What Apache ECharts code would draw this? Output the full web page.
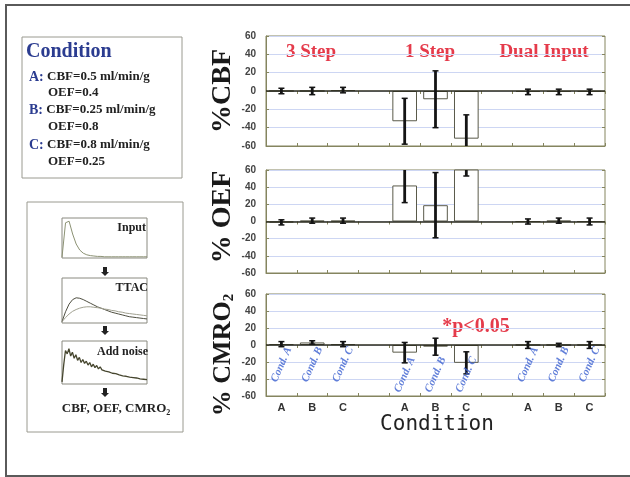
<!DOCTYPE html>
<html>
<head>
<meta charset="utf-8">
<title>%CBF / %OEF / %CMRO2 by condition</title>
<script src="https://cdn.jsdelivr.net/npm/echarts@6/dist/echarts.min.js"></script>
<style>
  html, body { margin: 0; padding: 0; background: #fff; }
  #chart { width: 630px; height: 477px; }
</style>
</head>
<body>
<div id="chart"></div>
<script>
// categories: 3 Step A-C, gap, 1 Step A-C, gap, Dual Input A-C
const xLabels = ['A', 'B', 'C', '', 'A', 'B', 'C', '', 'A', 'B', 'C']
const yMin = -60
const yMax = 60
const yStep = 20

// % error of estimates (mean, sd)
const cbfMean = [0, 0, 1, null, -33, -9, -52, null, -1, -1, -1]
const cbfErr = [3, 4, 3, null, 25, 31, 26, null, 3, 3, 3]
const oefMean = [-1, 1, 1, null, 42, 19, 75, null, 0, 1, 0]
const oefErr = [3, 3, 3, null, 20, 38, 22, null, 3, 3, 4]
const cmroMean = [1, 3, 1, null, -9, -2, -21, null, 0, 0, 0]
const cmroErr = [3, 2, 3, null, 12, 10, 13, null, 4, 2, 4]

// rotated "Cond." labels inside the CMRO2 panel
const condNames = ['Cond. A', 'Cond. B', 'Cond. C', '', 'Cond. A', 'Cond. B', 'Cond. C', '', 'Cond. A', 'Cond. B', 'Cond. C']
const condY = [-23, -23, -23, null, -35, -35, -35, null, -23, -23, -23]

// little curves of the simulation flow
const inputCurve = [2, 88, 92, 60, 35, 20, 12, 8, 6, 5, 4, 4, 3, 3, 3, 3, 3, 3, 3, 3, 3, 3, 3, 3, 3]
const ttacCurve = [3, 25, 42, 52, 56, 55, 52, 48, 44, 40, 36, 33, 30, 27, 24, 22, 20, 18, 16, 14, 13, 12, 11, 10, 9]
const ttacCurve2 = [3, 12, 20, 26, 30, 33, 35, 36, 36, 35, 34, 33, 31, 30, 28, 27, 25, 24, 22, 21, 20, 19, 18, 17, 16]
const noiseCurve = [5, 45, 78, 70, 82, 65, 74, 60, 68, 55, 62, 50, 57, 48, 53, 44, 50, 40, 46, 38, 43, 35, 40, 33, 37, 30,
  34, 28, 32, 25, 29, 24, 27, 21, 25, 19, 23, 18, 21, 16, 19, 15, 17, 14, 16, 12, 15, 11, 13, 10]

const frameColor = '#85855f'
const red = '#e53b4b'
const blue = '#2b3c90'
const serif = 'Liberation Serif, Times New Roman, serif'
const narrow = 'Liberation Sans Narrow, Liberation Sans, Arial, sans-serif'

const panels = [
  { mean: cbfMean, err: cbfErr, top: 36, height: 110 },
  { mean: oefMean, err: oefErr, top: 170, height: 103 },
  { mean: cmroMean, err: cmroErr, top: 294, height: 102 }
]
const minis = [
  { top: 218, height: 40 },
  { top: 278, height: 45 },
  { top: 341, height: 43 }
]

const errRender = (params, api) => {
  const m = api.value(1)
  const e = api.value(2)
  const hi = api.coord([api.value(0), m + e])
  const lo = api.coord([api.value(0), m - e])
  const cap = 3
  const s = { stroke: '#141414', lineWidth: 1.5 }
  return {
    type: 'group',
    children: [
      { type: 'line', shape: { x1: hi[0], y1: hi[1], x2: lo[0], y2: lo[1] }, style: { stroke: '#141414', lineWidth: 2.8 } },
      { type: 'line', shape: { x1: hi[0] - cap, y1: hi[1], x2: hi[0] + cap, y2: hi[1] }, style: s },
      { type: 'line', shape: { x1: lo[0] - cap, y1: lo[1], x2: lo[0] + cap, y2: lo[1] }, style: s }
    ]
  }
}

const grid = []
const xAxis = []
const yAxis = []
const series = []

panels.forEach((p, i) => {
  grid.push({ left: 266, width: 339, top: p.top, height: p.height, show: true, borderColor: frameColor, borderWidth: 1 })
  xAxis.push({
    type: 'category', gridIndex: i, data: xLabels, position: 'bottom',
    axisLine: { onZero: false, lineStyle: { color: frameColor } },
    axisTick: { show: true, inside: true, length: 3, interval: 0, lineStyle: { color: frameColor } },
    axisLabel: { show: i === 2, interval: 0, color: '#333', fontSize: 11, fontWeight: 'bold', fontFamily: narrow, margin: 6 },
    splitLine: { show: false }
  })
  yAxis.push({
    type: 'value', gridIndex: i, min: yMin, max: yMax, interval: yStep, position: 'left',
    axisLine: { show: true, lineStyle: { color: frameColor } },
    axisTick: { show: true, inside: true, length: 3, lineStyle: { color: frameColor } },
    axisLabel: { color: '#444', fontSize: 10, fontWeight: 'bold', fontFamily: narrow, margin: 10 },
    splitLine: { show: true, lineStyle: { color: '#cdd6f3', width: 1 } }
  })
  series.push({
    type: 'bar', xAxisIndex: i, yAxisIndex: i, data: p.mean, barWidth: '80%',
    itemStyle: { color: '#fff', borderColor: '#5a5a4a', borderWidth: 1 },
    markLine: {
      silent: true, symbol: ['none', 'none'], label: { show: false },
      lineStyle: { color: '#2a2a1c', width: 1.5, type: 'solid' },
      data: [{ yAxis: 0 }]
    }
  })
  const ed = []
  p.mean.forEach((m, k) => { if (m !== null) ed.push([k, m, p.err[k]]) })
  series.push({
    type: 'custom', xAxisIndex: i, yAxisIndex: i, data: ed, renderItem: errRender,
    encode: { x: 0, y: 1 }, clip: true, z: 5
  })
})

// top and right frame ticks
panels.forEach((p, i) => {
  xAxis.push({
    type: 'category', gridIndex: i, data: xLabels, position: 'top',
    axisLine: { show: false },
    axisTick: { show: true, inside: true, length: 3, interval: 0, lineStyle: { color: frameColor } },
    axisLabel: { show: false }
  })
  yAxis.push({
    type: 'value', gridIndex: i, min: yMin, max: yMax, interval: yStep, position: 'right',
    axisLine: { show: false },
    axisTick: { show: true, inside: true, length: 3, lineStyle: { color: frameColor } },
    axisLabel: { show: false }, splitLine: { show: false }
  })
})

series.push({
  type: 'scatter', xAxisIndex: 2, yAxisIndex: 2, symbolSize: 0, z: 6,
  data: condY.map((y, k) => ({ name: condNames[k], value: [k, y] })).filter(d => d.value[1] !== null),
  label: {
    show: true, position: 'inside', formatter: '{b}', rotate: 66,
    color: '#3a5fd0', fontSize: 11, fontStyle: 'italic', fontWeight: 'bold', fontFamily: serif
  }
})

// small flow-diagram plots
const miniData = [[inputCurve], [ttacCurve, ttacCurve2], [noiseCurve]]
const miniColors = [['#8c9274'], ['#4e4e40', '#a0a090'], ['#46462e']]
minis.forEach((m, j) => {
  const gi = 3 + j
  grid.push({ left: 62, width: 85, top: m.top, height: m.height, show: true, borderColor: '#8a8a80', borderWidth: 1 })
  xAxis.push({ type: 'category', gridIndex: gi, boundaryGap: false, data: miniData[j][0].map((v, k) => k), show: false })
  yAxis.push({ type: 'value', gridIndex: gi, min: 0, max: 100, show: false })
  miniData[j].forEach((d, k) => {
    series.push({
      type: 'line', xAxisIndex: 6 + j, yAxisIndex: 6 + j, data: d, showSymbol: false,
      lineStyle: { color: miniColors[j][k], width: j === 2 ? 1.3 : 1 }
    })
  })
})

const arrow = (x, y) => ({
  type: 'polygon',
  shape: { points: [[x - 2, y], [x + 2, y], [x + 2, y + 5], [x + 4, y + 5], [x, y + 9], [x - 4, y + 5], [x - 2, y + 5]] },
  style: { fill: '#222' }
})
const txt = (x, y, text, extra, rot) => ({
  type: 'text', x, y, rotation: rot || 0,
  style: Object.assign({ text, fontFamily: serif, fontWeight: 'bold', fontSize: 13, fill: '#222', verticalAlign: 'middle' }, extra)
})
const condRich = { b: { fill: blue, fontSize: 14, fontFamily: serif, fontWeight: 'bold' } }
const up = Math.PI / 2

const graphic = [
  { type: 'rect', shape: { x: 6, y: 5, width: 640, height: 471 }, style: { fill: 'none', stroke: '#5a5a5a', lineWidth: 2 }, z: -10 },
  { type: 'rect', shape: { x: 22, y: 37, width: 160, height: 141 }, style: { fill: 'none', stroke: '#9a9a90', lineWidth: 1 } },
  { type: 'rect', shape: { x: 27, y: 202, width: 156, height: 230 }, style: { fill: 'none', stroke: '#9a9a90', lineWidth: 1 } },
  txt(26, 52, 'Condition', { fontSize: 20, fill: blue }),
  txt(29, 77, '{b|A:} CBF=0.5 ml/min/g', { rich: condRich }),
  txt(48, 93, 'OEF=0.4'),
  txt(29, 110, '{b|B:} CBF=0.25 ml/min/g', { rich: condRich }),
  txt(48, 127, 'OEF=0.8'),
  txt(29, 145, '{b|C:} CBF=0.8 ml/min/g', { rich: condRich }),
  txt(48, 162, 'OEF=0.25'),
  txt(146, 228, 'Input', { fontSize: 12, align: 'right' }),
  txt(148, 288, 'TTAC', { fontSize: 12, align: 'right' }),
  txt(148, 352, 'Add noise', { fontSize: 12, align: 'right' }),
  arrow(105, 267),
  arrow(105, 326),
  arrow(105, 388),
  txt(116, 409, 'CBF, OEF, CMRO{s|2}', { align: 'center', rich: { s: { fontSize: 8, fontFamily: serif, fontWeight: 'bold', fill: '#222', padding: [8, 0, 0, 0] } } }),
  txt(223, 91, '%CBF', { fontSize: 28, align: 'center', fill: '#1a1a1a' }, up),
  txt(223, 217, '% OEF', { fontSize: 28, align: 'center', fill: '#1a1a1a' }, up),
  txt(223, 355, '% CMRO{s|2}', { fontSize: 26, align: 'center', fill: '#1a1a1a', rich: { s: { fontSize: 15, fontFamily: serif, fontWeight: 'bold', fill: '#1a1a1a', padding: [12, 0, 0, 0] } } }, up),
  txt(437, 425, 'Condition', { fontFamily: 'DejaVu Sans Mono, monospace', fontWeight: 'normal', fontSize: 21, align: 'center', fill: '#222' }),
  txt(311, 52, '3 Step', { fontSize: 19, align: 'center', fill: red }),
  txt(430, 52, '1 Step', { fontSize: 19, align: 'center', fill: red }),
  txt(544, 52, 'Dual Input', { fontSize: 19, align: 'center', fill: red }),
  txt(476, 327, '*p<0.05', { fontSize: 20, align: 'center', fill: red })
]

const chart = echarts.init(document.getElementById('chart'))
chart.setOption({
  backgroundColor: '#fff',
  animation: false,
  grid, xAxis, yAxis, series, graphic
})
</script>
</body>
</html>
